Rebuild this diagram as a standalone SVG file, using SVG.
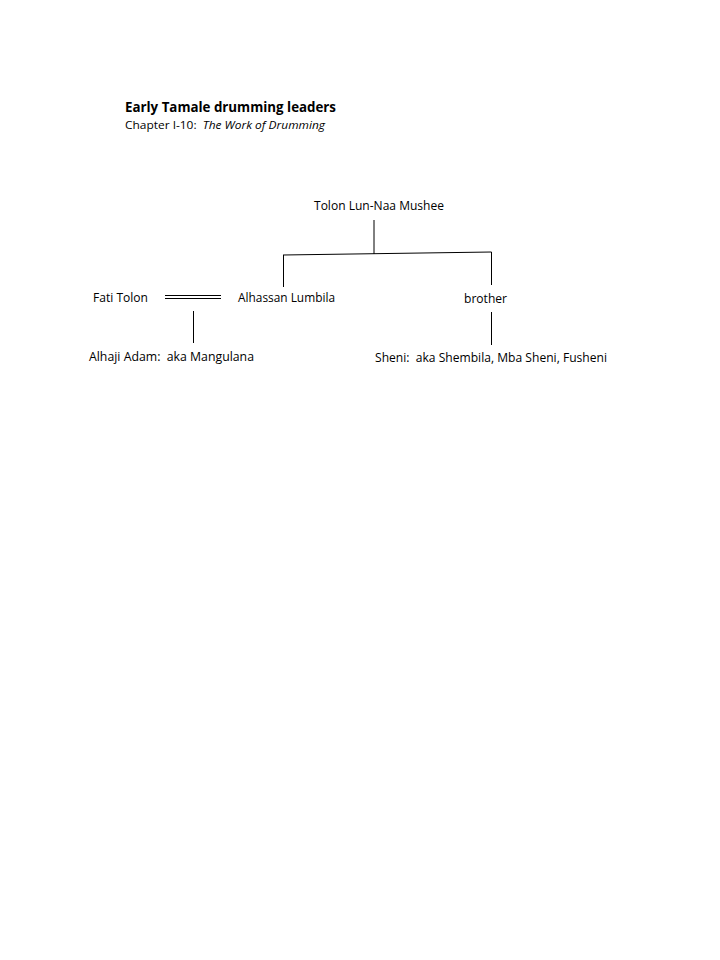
<svg xmlns="http://www.w3.org/2000/svg" width="720" height="960" viewBox="0 0 720 960">
<style>
text{font-family:"Open Sans","Liberation Sans",sans-serif;font-size:12.5px;fill:#000;white-space:pre}
.t{font-weight:bold;font-size:13.5px}
.s{font-size:11.5px}
.c line,.c path{stroke:#000;stroke-width:1;fill:none}
</style>
<rect width="720" height="960" fill="#fff"/>
<g id="title"><text class="t" x="125" y="112" textLength="211" lengthAdjust="spacingAndGlyphs">Early Tamale drumming leaders</text></g>
<g id="subtitle"><text class="s" x="125" y="129" textLength="200" lengthAdjust="spacingAndGlyphs" xml:space="preserve">Chapter I-10:  <tspan font-style="italic">The Work of Drumming</tspan></text></g>
<g id="n-tolon"><text x="314" y="210" textLength="130" lengthAdjust="spacingAndGlyphs">Tolon Lun-Naa Mushee</text></g>
<g id="n-fati"><text x="93" y="302" textLength="55" lengthAdjust="spacingAndGlyphs">Fati Tolon</text></g>
<g id="n-alhassan"><text x="238" y="302" textLength="97" lengthAdjust="spacingAndGlyphs">Alhassan Lumbila</text></g>
<g id="n-brother"><text x="464" y="303" textLength="43" lengthAdjust="spacingAndGlyphs">brother</text></g>
<g id="n-alhaji"><text x="89" y="361" textLength="165" lengthAdjust="spacingAndGlyphs" xml:space="preserve">Alhaji Adam:  aka Mangulana</text></g>
<g id="n-sheni"><text x="375" y="362" textLength="232" lengthAdjust="spacingAndGlyphs" xml:space="preserve">Sheni:  aka Shembila, Mba Sheni, Fusheni</text></g>
<g id="connectors" class="c">
<line x1="374" y1="220" x2="374" y2="254"/>
<line x1="283" y1="255" x2="491.5" y2="252"/>
<line x1="283.5" y1="255" x2="283.5" y2="287"/>
<line x1="491.5" y1="252" x2="491.5" y2="285"/>
<line x1="165" y1="295.5" x2="221" y2="295.5"/>
<line x1="165" y1="298.5" x2="221" y2="298.5"/>
<line x1="193.5" y1="311" x2="193.5" y2="343"/>
<line x1="491.5" y1="312" x2="491.5" y2="345"/>
</g>
</svg>
